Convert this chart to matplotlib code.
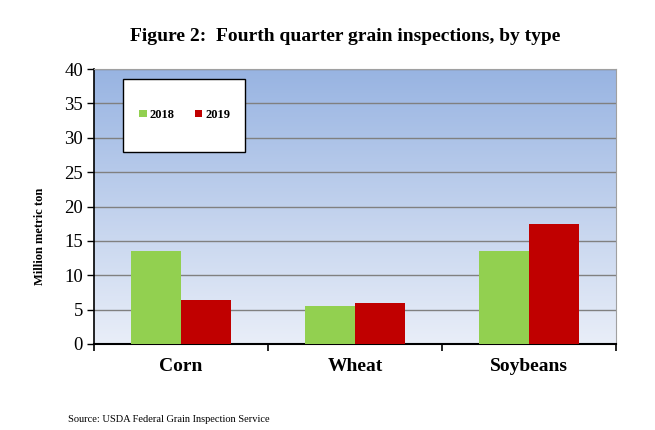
import numpy as np
import matplotlib
matplotlib.use('Agg')
import matplotlib.pyplot as plt
from matplotlib.colors import LinearSegmentedColormap
from matplotlib.patches import Rectangle

categories = ['Corn', 'Wheat', 'Soybeans']
val_2018 = [13.6, 5.5, 13.5]
val_2019 = [6.4, 6.0, 17.5]
yticks = [0, 5, 10, 15, 20, 25, 30, 35, 40]

plt.rcParams['font.family'] = ['Liberation Serif', 'DejaVu Serif']

fig = plt.figure(figsize=(6.55, 4.3), dpi=100)
ax = fig.add_axes([0.1435, 0.2, 0.797, 0.6395])

# gradient background
cmap = LinearSegmentedColormap.from_list('bg', ['#e9eef8', '#98b4e2'])
grad = np.linspace(0, 1, 256).reshape(-1, 1)
ax.imshow(grad, cmap=cmap, aspect='auto', origin='lower',
          extent=[0, 1, 0, 1], transform=ax.transAxes, zorder=0)

x = np.arange(len(categories))
w = 0.285
ax.bar(x - w / 2, val_2018, w, color='#92d050', label='2018', zorder=3)
ax.bar(x + w / 2, val_2019, w, color='#c00000', label='2019', zorder=3)

ax.set_xlim(-0.5, 2.5)
ax.set_ylim(0, 40)
ax.set_yticks(yticks)
ax.set_yticklabels([str(t) for t in yticks], fontsize=13.5)
ax.yaxis.grid(True, color='#808080', linewidth=1, zorder=1)
ax.set_axisbelow(True)

ax.set_xticks([-0.5, 0.5, 1.5, 2.5])
ax.set_xticklabels([])
ax.set_xticks(x, minor=True)
ax.set_xticklabels(categories, minor=True, fontsize=14, fontweight='bold')
ax.tick_params(axis='x', which='minor', length=0, pad=10)
ax.tick_params(axis='x', which='major', length=5, width=1.2, direction='out')
ax.tick_params(axis='y', length=5, width=1, direction='out', pad=3)

for s in ['top', 'right']:
    ax.spines[s].set_color('#a0a0a0')
ax.spines['left'].set_linewidth(1.2)
ax.spines['bottom'].set_linewidth(1.5)

ax.set_ylabel('Million metric ton', fontsize=9, fontweight='bold')
ax.yaxis.set_label_coords(-0.092, 0.39)

# legend box
box = Rectangle((0.0556, 0.698), 0.2335, 0.266, transform=ax.transAxes,
                facecolor='white', edgecolor='black', linewidth=1.0, zorder=4)
ax.add_patch(box)
leg = ax.legend(loc='center', bbox_to_anchor=(0.174, 0.833), ncol=2,
                prop={'weight': 'bold', 'size': 9},
                frameon=False, handlelength=0.6, handleheight=0.6,
                handletextpad=0.25, columnspacing=1.6, borderaxespad=0)
leg.set_zorder(5)

fig.text(0.527, 0.915, 'Figure 2:  Fourth quarter grain inspections, by type',
         ha='center', va='center', fontsize=14, fontweight='bold')
fig.text(0.104, 0.025, 'Source: USDA Federal Grain Inspection Service',
         ha='left', va='center', fontsize=7.5)

fig.savefig('out.png', dpi=100)
